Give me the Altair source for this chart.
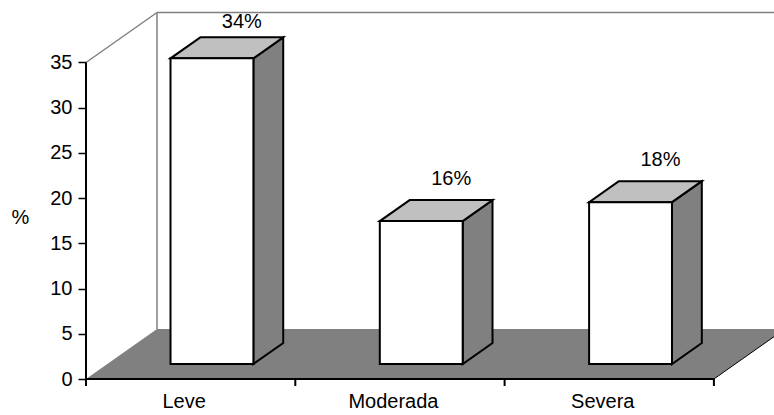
import json
import altair as alt
import pandas as pd

# ---------------- data ----------------
categories = ["Leve", "Moderada", "Severa"]
values = [33.8, 15.8, 17.9]
y_ticks = [0, 5, 10, 15, 20, 25, 30, 35]
y_title = "%"

# ---------------- geometry (pseudo-3D projection) ----------------
BAND_PX = 209.3          # pixels per category band
UNIT_PX = 9.043          # pixels per % unit
LEFT, TOP = 86, 11
W = 774 - LEFT
H = 379 - TOP
X_MAX = W / BAND_PX
Y_MAX = H / UNIT_PX
DX = 71 / BAND_PX        # full depth, in x units
DY = 50 / UNIT_PX        # full depth, in y units
F1, F2 = 0.30, 0.72      # bar front / back depth fraction
BAR_L, BAR_R = 0.302, 0.698
WALL_TOP = max(y_ticks)
N = len(categories)
FONT = "Liberation Sans"

xs = alt.Scale(domain=[0, X_MAX], nice=False, zero=False)
ys = alt.Scale(domain=[0, Y_MAX], nice=False, zero=False)

label_expr = "%s[floor(datum.value)]" % json.dumps(categories)
x_axis = alt.Axis(values=[i + 0.5 for i in range(N)], labelExpr=label_expr,
                  ticks=False, tickSize=0, domain=False, grid=False,
                  labelFont=FONT, labelFontSize=20, labelColor="black",
                  labelPadding=12, labelOffset=-7, title=None)
y_axis = alt.Axis(values=y_ticks, domain=False, grid=False, ticks=True,
                  tickColor="black", tickSize=8, tickWidth=1.5,
                  labelFont=FONT, labelFontSize=20, labelColor="black",
                  labelPadding=6, title=y_title, titleAngle=0,
                  titleFont=FONT, titleFontSize=20, titleFontWeight="normal",
                  titleColor="black", titleX=-66, titleY=206,
                  titleAlign="center", titleBaseline="middle")


def X(f):
    return alt.X(f, type="quantitative", scale=xs, axis=x_axis)


def Y(f):
    return alt.Y(f, type="quantitative", scale=ys, axis=y_axis, stack=None)


# floor
floor_df = pd.DataFrame({"y": [0, DY], "xlo": [0, DX], "xhi": [N, N + DX]})
floor = alt.Chart(floor_df).mark_area(orient="horizontal", color="#808080").encode(
    y=Y("y"), x=X("xlo"), x2="xhi")

# walls and edges
def seg_df(rows):
    return pd.DataFrame(rows, columns=["x", "y", "x2", "y2"])

wall_df = seg_df([
    (0, WALL_TOP, DX, WALL_TOP + DY),
    (DX, DY, DX, WALL_TOP + DY),
    (DX, WALL_TOP + DY, N + DX, WALL_TOP + DY),
])
walls = alt.Chart(wall_df).mark_rule(color="#808080", strokeWidth=1.5).encode(
    x=X("x"), y=Y("y"), x2="x2", y2="y2")

floor_edge = alt.Chart(seg_df([(N, 0, N + DX, DY)])).mark_rule(
    color="black", strokeWidth=1).encode(x=X("x"), y=Y("y"), x2="x2", y2="y2")

axes_df = seg_df([(0, 0, 0, WALL_TOP), (0, 0, N, 0)] +
                 [(i, 0, i, -7 / UNIT_PX) for i in range(N + 1)])
axis_lines = alt.Chart(axes_df).mark_rule(color="black", strokeWidth=2).encode(
    x=X("x"), y=Y("y"), x2="x2", y2="y2")

# bars
front_rows, side_rows, top_rows, lab_rows = [], [], [], []
for i, (c, v) in enumerate(zip(categories, values)):
    front_rows.append({"cat": c, "x0": i + BAR_L + F1 * DX, "x1": i + BAR_R + F1 * DX,
                       "y0": F1 * DY, "y1": v + F1 * DY})
    for f in (F1, F2):
        side_rows.append({"cat": c, "x": i + BAR_R + f * DX, "ylo": f * DY, "yhi": v + f * DY})
        top_rows.append({"cat": c, "y": v + f * DY, "xlo": i + BAR_L + f * DX,
                         "xhi": i + BAR_R + f * DX})
    lab_rows.append({"cat": c, "x": i + 0.5 + (F1 + F2) / 2 * DX,
                     "y": min(v + F2 * DY + 2.3, Y_MAX - 1.25),
                     "label": f"{round(v)}%"})

bar_style = dict(stroke="black", strokeWidth=2, strokeJoin="miter")

side = alt.Chart(pd.DataFrame(side_rows)).mark_area(
    orient="vertical", fill="#808080", **bar_style).encode(
    x=X("x"), y=Y("yhi"), y2="ylo", detail="cat:N")

top = alt.Chart(pd.DataFrame(top_rows)).mark_area(
    orient="horizontal", fill="#C0C0C0", **bar_style).encode(
    y=Y("y"), x=X("xlo"), x2="xhi", detail="cat:N")

front = alt.Chart(pd.DataFrame(front_rows)).mark_rect(
    fill="white", **bar_style).encode(
    x=X("x0"), x2="x1", y=Y("y0"), y2="y1")

labels = alt.Chart(pd.DataFrame(lab_rows)).mark_text(
    font=FONT, fontSize=20, color="black", dx=15, baseline="middle").encode(
    x=X("x"), y=Y("y"), text="label:N")

chart = alt.layer(floor, walls, floor_edge, side, top, front, axis_lines, labels).properties(
    width=W, height=H,
    padding={"left": LEFT, "top": TOP, "right": 0, "bottom": 415 - 379},
    autosize=alt.AutoSizeParams(type="none"),
    background="white",
).configure_view(stroke=None)

chart.save("out.html", embed_options={"renderer": "svg", "actions": False})
